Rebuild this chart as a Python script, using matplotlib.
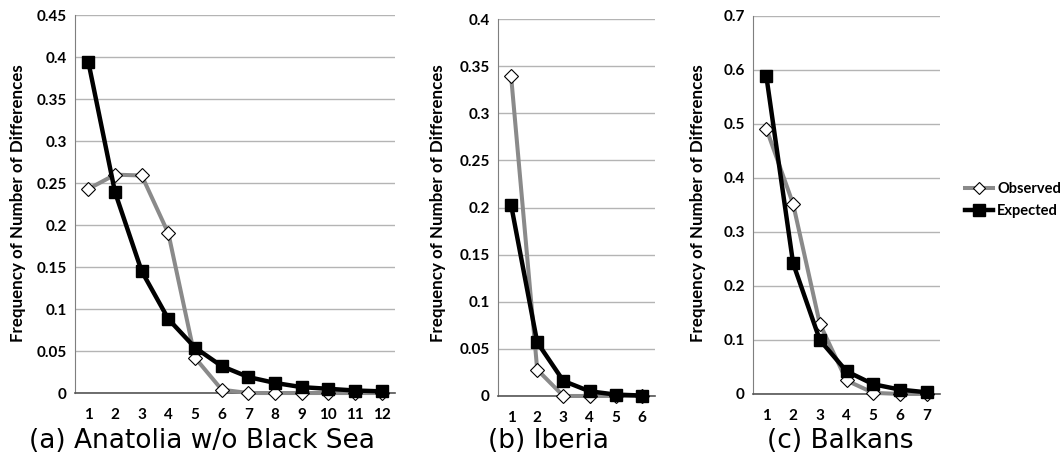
import matplotlib
matplotlib.use("Agg")
import matplotlib.pyplot as plt
from matplotlib.lines import Line2D

plt.rcParams['font.family'] = ['Lato', 'DejaVu Sans']

# (a) Anatolia w/o Black Sea
a_x = list(range(1, 13))
a_obs = [0.243, 0.260, 0.259, 0.190, 0.042, 0.004, 0.0, 0.0, 0.0, 0.0, 0.0, 0.0]
a_exp = [0.394, 0.239, 0.145, 0.088, 0.054, 0.032, 0.019, 0.012, 0.007, 0.005, 0.003, 0.002]
a_ticks = [0, 0.05, 0.1, 0.15, 0.2, 0.25, 0.3, 0.35, 0.4, 0.45]
a_labels = ["0", "0.05", "0.1", "0.15", "0.2", "0.25", "0.3", "0.35", "0.4", "0.45"]

# (b) Iberia
b_x = list(range(1, 7))
b_obs = [0.340, 0.028, 0.0, 0.0, 0.0, 0.0]
b_exp = [0.203, 0.057, 0.016, 0.005, 0.0015, 0.0005]
b_ticks = [0, 0.05, 0.1, 0.15, 0.2, 0.25, 0.3, 0.35, 0.4]
b_labels = ["0", "0.05", "0.1", "0.15", "0.2", "0.25", "0.3", "0.35", "0.4"]

# (c) Balkans
c_x = list(range(1, 8))
c_obs = [0.491, 0.352, 0.130, 0.025, 0.002, 0.0, 0.0]
c_exp = [0.588, 0.242, 0.100, 0.042, 0.018, 0.008, 0.003]
c_ticks = [0, 0.1, 0.2, 0.3, 0.4, 0.5, 0.6, 0.7]
c_labels = ["0", "0.1", "0.2", "0.3", "0.4", "0.5", "0.6", "0.7"]

titles = ["(a) Anatolia w/o Black Sea", "(b) Iberia", "(c) Balkans"]
ylab = "Frequency of Number of Differences"

OBS_C = "#8a8a8a"
GRID_C = "#b4b4b4"

fig = plt.figure(figsize=(10.6, 4.57), dpi=100, facecolor="w")

rects = [
    [0.0708, 0.140, 0.3019, 0.827],
    [0.4698, 0.1335, 0.148, 0.8245],
    [0.7104, 0.138, 0.1764, 0.827],
]
panels = [
    (a_x, a_obs, a_exp, a_ticks, a_labels),
    (b_x, b_obs, b_exp, b_ticks, b_labels),
    (c_x, c_obs, c_exp, c_ticks, c_labels),
]
ylab_x = [18, 438, 698]
title_x = [202, 548, 840]

def draw_obs(ax, x, y):
    ax.plot(x, y, color=OBS_C, lw=2.9, marker="D", ms=7,
            mfc="white", mec="black", mew=0.8, zorder=3, clip_on=False)

def draw_exp(ax, x, y):
    ax.plot(x, y, color="black", lw=3.2, marker="s", ms=8.5,
            mfc="black", mec="black", zorder=4, clip_on=False)

for i, (x, obs, exp, ticks, labels) in enumerate(panels):
    ax = fig.add_axes(rects[i])
    draw_obs(ax, x, obs)
    draw_exp(ax, x, exp)
    ax.set_xlim(0.5, len(x) + 0.5)
    ax.set_ylim(0, ticks[-1])
    ax.set_yticks(ticks)
    ax.set_yticklabels(labels)
    ax.set_xticks(x)
    ax.set_xticklabels([str(v) for v in x])
    ax.yaxis.grid(True, color=GRID_C, lw=1)
    ax.set_axisbelow(True)
    for s in ["top", "right"]:
        ax.spines[s].set_visible(False)
    ax.spines["left"].set_color("#7f7f7f")
    ax.spines["bottom"].set_color("#555555")
    ax.spines["bottom"].set_linewidth(1.2)
    ax.tick_params(axis="both", length=0, labelsize=11)
    ax.tick_params(axis="y", pad=6)
    ax.tick_params(axis="x", pad=11)
    for t in ax.get_xticklabels() + ax.get_yticklabels():
        t.set_fontweight("bold")
    fig.text(ylab_x[i] / 1060, 1 - 203 / 457, ylab, rotation=90,
             ha="center", va="center", fontsize=12.2, fontweight="bold")
    fig.text(title_x[i] / 1060, 1 - 441 / 457, titles[i],
             ha="center", va="center", fontsize=19, family="DejaVu Sans")

handles = [
    Line2D([], [], color=OBS_C, lw=2.9, marker="D", ms=6, mfc="white",
           mec="black", mew=0.8),
    Line2D([], [], color="black", lw=3.2, marker="s", ms=8, mfc="black"),
]
fig.legend(handles, ["Observed", "Expected"], loc="center left",
           bbox_to_anchor=(965 / 1060, 1 - 200 / 457), frameon=False,
           borderaxespad=0, borderpad=0,
           handlelength=1.9, handletextpad=0.3, labelspacing=0.55,
           prop={"size": 10.5, "weight": "bold"})

fig.savefig("out.png", dpi=100, facecolor="w")
